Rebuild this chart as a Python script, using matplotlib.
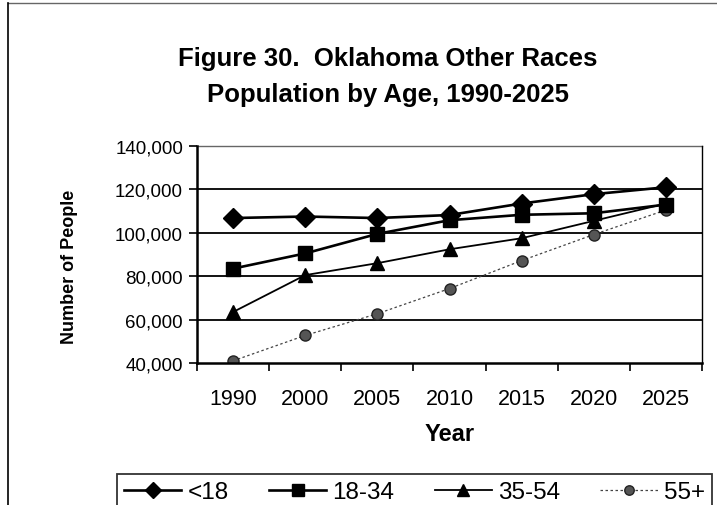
import matplotlib
matplotlib.use("Agg")
import matplotlib.pyplot as plt
from matplotlib.ticker import FuncFormatter

plt.rcParams['font.family'] = ['Liberation Sans', 'DejaVu Sans']

years = ['1990', '2000', '2005', '2010', '2015', '2020', '2025']
under18 = [106800, 107500, 106800, 108200, 113500, 117800, 121000]
age18_34 = [83500, 90500, 99500, 105800, 108300, 109000, 113000]
age35_54 = [63500, 80500, 86000, 92400, 97500, 105500, 113500]
age55p = [41000, 52700, 62700, 74300, 87200, 99200, 110500]
series_names = ['<18', '18-34', '35-54', '55+']
yticks = [40000, 60000, 80000, 100000, 120000, 140000]

W, H = 717, 506
fig = plt.figure(figsize=(W / 100, H / 100), dpi=100)
# chart border
fig.add_artist(plt.Line2D([8/W, 8/W], [0, 1 - 4/H], color='black', lw=1.2))
fig.add_artist(plt.Line2D([8/W, 1], [1 - 4/H, 1 - 4/H], color='black', lw=1.0, alpha=0.6))

ax = fig.add_axes([197/W, 1 - 364/H, 505/W, 217/H])
x = list(range(len(years)))

ax.plot(x, under18, color='black', lw=1.9, marker='D', ms=10, label=series_names[0], zorder=5)
ax.plot(x, age18_34, color='black', lw=1.9, marker='s', ms=10, label=series_names[1], zorder=4)
ax.plot(x, age35_54, color='black', lw=1.3, marker='^', ms=10, label=series_names[2], zorder=3)
ax.plot(x, age55p, color='#444444', lw=0.9, ls=(0, (2, 2)), marker='o', ms=8,
        mfc='#555555', mec='#222222', label=series_names[3], zorder=2)

ax.set_xlim(-0.5, len(years) - 0.5)
ax.set_ylim(40000, 140000)
ax.set_yticks(yticks)
ax.yaxis.set_major_formatter(FuncFormatter(lambda v, p: f"{int(v):,}"))
ax.set_xticks(x)
ax.set_xticklabels(years)
ax.set_xticks([i - 0.5 for i in range(len(years) + 1)], minor=True)
ax.tick_params(axis='x', which='major', length=0, labelsize=15.5, pad=18)
ax.tick_params(axis='x', which='minor', length=6, width=1.2, direction='out')
ax.tick_params(axis='y', length=6, width=1.2, direction='out', labelsize=13.5, pad=4)

for v in yticks[1:-1]:
    ax.axhline(v, color='black', lw=1.3, zorder=1)

for s in ['left', 'bottom']:
    ax.spines[s].set_linewidth(1.8)
ax.spines['top'].set_linewidth(1.0)
ax.spines['top'].set_alpha(0.6)
ax.spines['right'].set_linewidth(1.0)

ax.set_ylabel('Number of People', fontsize=13, fontweight='bold')
ax.yaxis.set_label_coords(-0.235, 0.447)
ax.set_xlabel('Year', fontsize=17, fontweight='bold', labelpad=4)
ax.xaxis.set_label_coords(0.5, -0.27)

fig.text(388/W, 1 - 59/H, 'Figure 30.  Oklahoma Other Races', ha='center', va='center',
         fontsize=18.5, fontweight='bold')
fig.text(388/W, 1 - 95/H, 'Population by Age, 1990-2025', ha='center', va='center',
         fontsize=18.5, fontweight='bold')

leg = fig.legend(loc='upper left', bbox_to_anchor=(117/W, 1 - 480/H, 595/W, 0.01),
                 mode='expand', borderaxespad=0, ncol=4, markerscale=0.85,
                 frameon=True, fancybox=False, edgecolor='black', fontsize=17.5,
                 handlelength=2.35, handletextpad=0.25, borderpad=0.3)
leg.get_frame().set_linewidth(1.3)

fig.savefig('out.png', dpi=100)
